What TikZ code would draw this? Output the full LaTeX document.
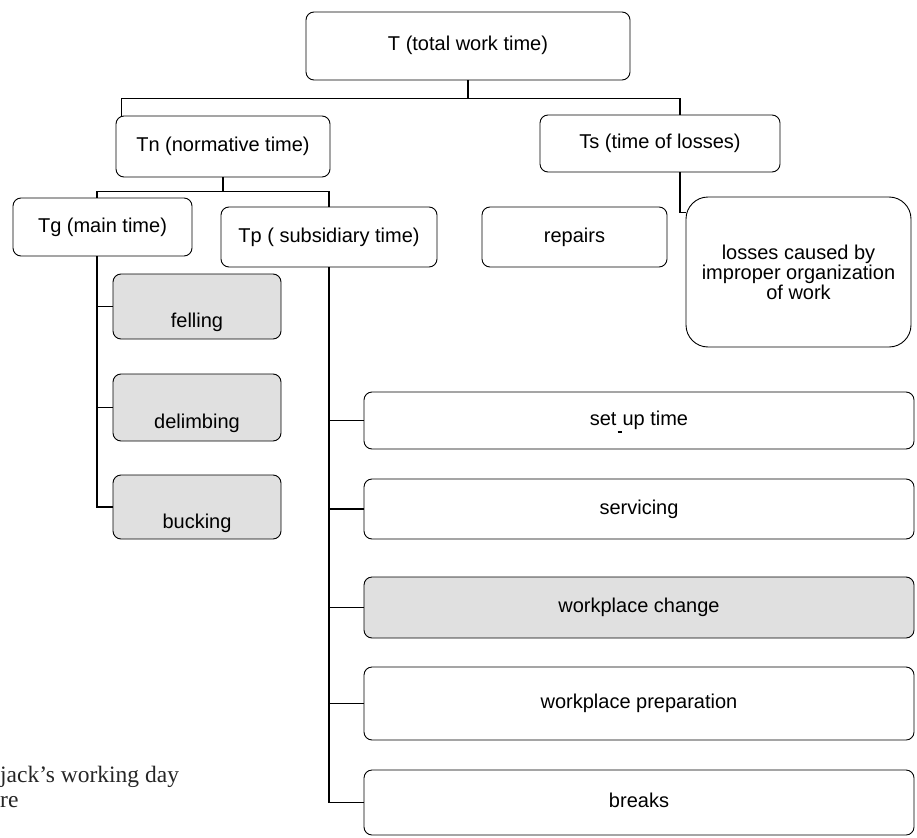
\documentclass[tikz,border=0pt]{standalone}
\usepackage{fontspec}
\setmainfont{Liberation Sans}
\newfontfamily\capfont{Liberation Serif}
\usepackage{tikz}
\usetikzlibrary{positioning}

\begin{document}
\begin{tikzpicture}[x=1pt,y=-1pt,
    frame/.style={draw,line width=0.9pt,rounded corners=8pt,inner sep=2pt,
        font=\fontsize{20}{20}\selectfont},
    box/.style={frame,text height=14pt,text depth=4pt},
    greybox/.style={box,fill=black!12,text height=46pt,text depth=4pt},
    wire/.style={line width=1.2pt}]
    \useasboundingbox (0,0) rectangle (917,837);

    % top levels
    \node[box,minimum width=324pt,minimum height=68pt] (tot) at (468,46) {T (total work time)};
    \node[box,minimum width=214pt,minimum height=61pt] (norm) at (223,146.5) {Tn (normative time)};
    \node[box,minimum width=240pt,minimum height=57pt] (loss) at (660,143.5) {Ts (time of losses)};
    \node[box,minimum width=179pt,minimum height=58pt] (main) at (102.5,227) {Tg (main time)};
    \node[box,minimum width=216pt,minimum height=60pt] (subs) at (329,237) {Tp ( subsidiary time)};
    \node[box,minimum width=185pt,minimum height=60pt] (rep) at (574.5,237) {repairs};
    \node[frame,rounded corners=22pt,minimum width=225pt,minimum height=150pt,align=center] (org) at (798.5,272)
        {losses caused by\\improper organization\\of work};

    % main time parts
    \node[greybox,minimum width=168pt,minimum height=65pt] (fel) at (197,306.5) {felling};
    \node[greybox,minimum width=168pt,minimum height=67pt] (del) at (197,407.5) {delimbing};
    \node[greybox,minimum width=168pt,minimum height=64pt] (buc) at (197,507) {bucking};

    % subsidiary time parts
    \node[box,minimum width=550pt,minimum height=57pt] (setup) at (639,420.5)
        {set\hspace{1pt}\rule[-7pt]{4pt}{1.3pt}\hspace{1pt}up time};
    \node[box,minimum width=550pt,minimum height=60pt] (serv) at (639,509) {servicing};
    \node[box,fill=black!12,minimum width=550pt,minimum height=61pt] (chg) at (639,607.5) {workplace change};
    \node[box,minimum width=550pt,minimum height=73pt] (prep) at (639,703.5) {workplace preparation};
    \node[box,minimum width=550pt,minimum height=65pt] (brk) at (639,802.5) {breaks};

    % connectors
    \coordinate (tj) at ([yshift=-18pt]tot.south);
    \draw[wire] (tot.south) -- (tj);
    \draw[wire] ([xshift=6pt]norm.north west) |- (tj) -| ([xshift=20pt]loss.north);
    \coordinate (nj) at ([yshift=-14pt]norm.south);
    \draw[wire] (norm.south) -- (nj);
    \draw[wire] ([xshift=-5.5pt]main.north) |- (nj) -| (subs.north);
    \draw[wire] ([xshift=20pt]loss.south) |- ([yshift=-16pt]org.north west);

    \coordinate (gs) at ([xshift=-5.5pt]main.south);
    \draw[wire] (gs) |- (buc.west);
    \foreach \nm in {fel,del}
        \draw[wire] (\nm.west) -- (\nm.west -| gs);
    \draw[wire] (subs.south) |- (brk.west);
    \foreach \nm in {setup,serv,chg,prep}
        \draw[wire] (\nm.west) -- (\nm.west -| subs.south);

    % caption remains
    \node[font=\capfont\fontsize{23.5}{25}\selectfont,text=black!85,anchor=base west,inner sep=0pt] (cap1) at (0,782) {jack’s working day};
    \node[font=\capfont\fontsize{23.5}{25}\selectfont,text=black!85,anchor=base west,inner sep=0pt] (cap2) at (0,807) {re};
\end{tikzpicture}
\end{document}
